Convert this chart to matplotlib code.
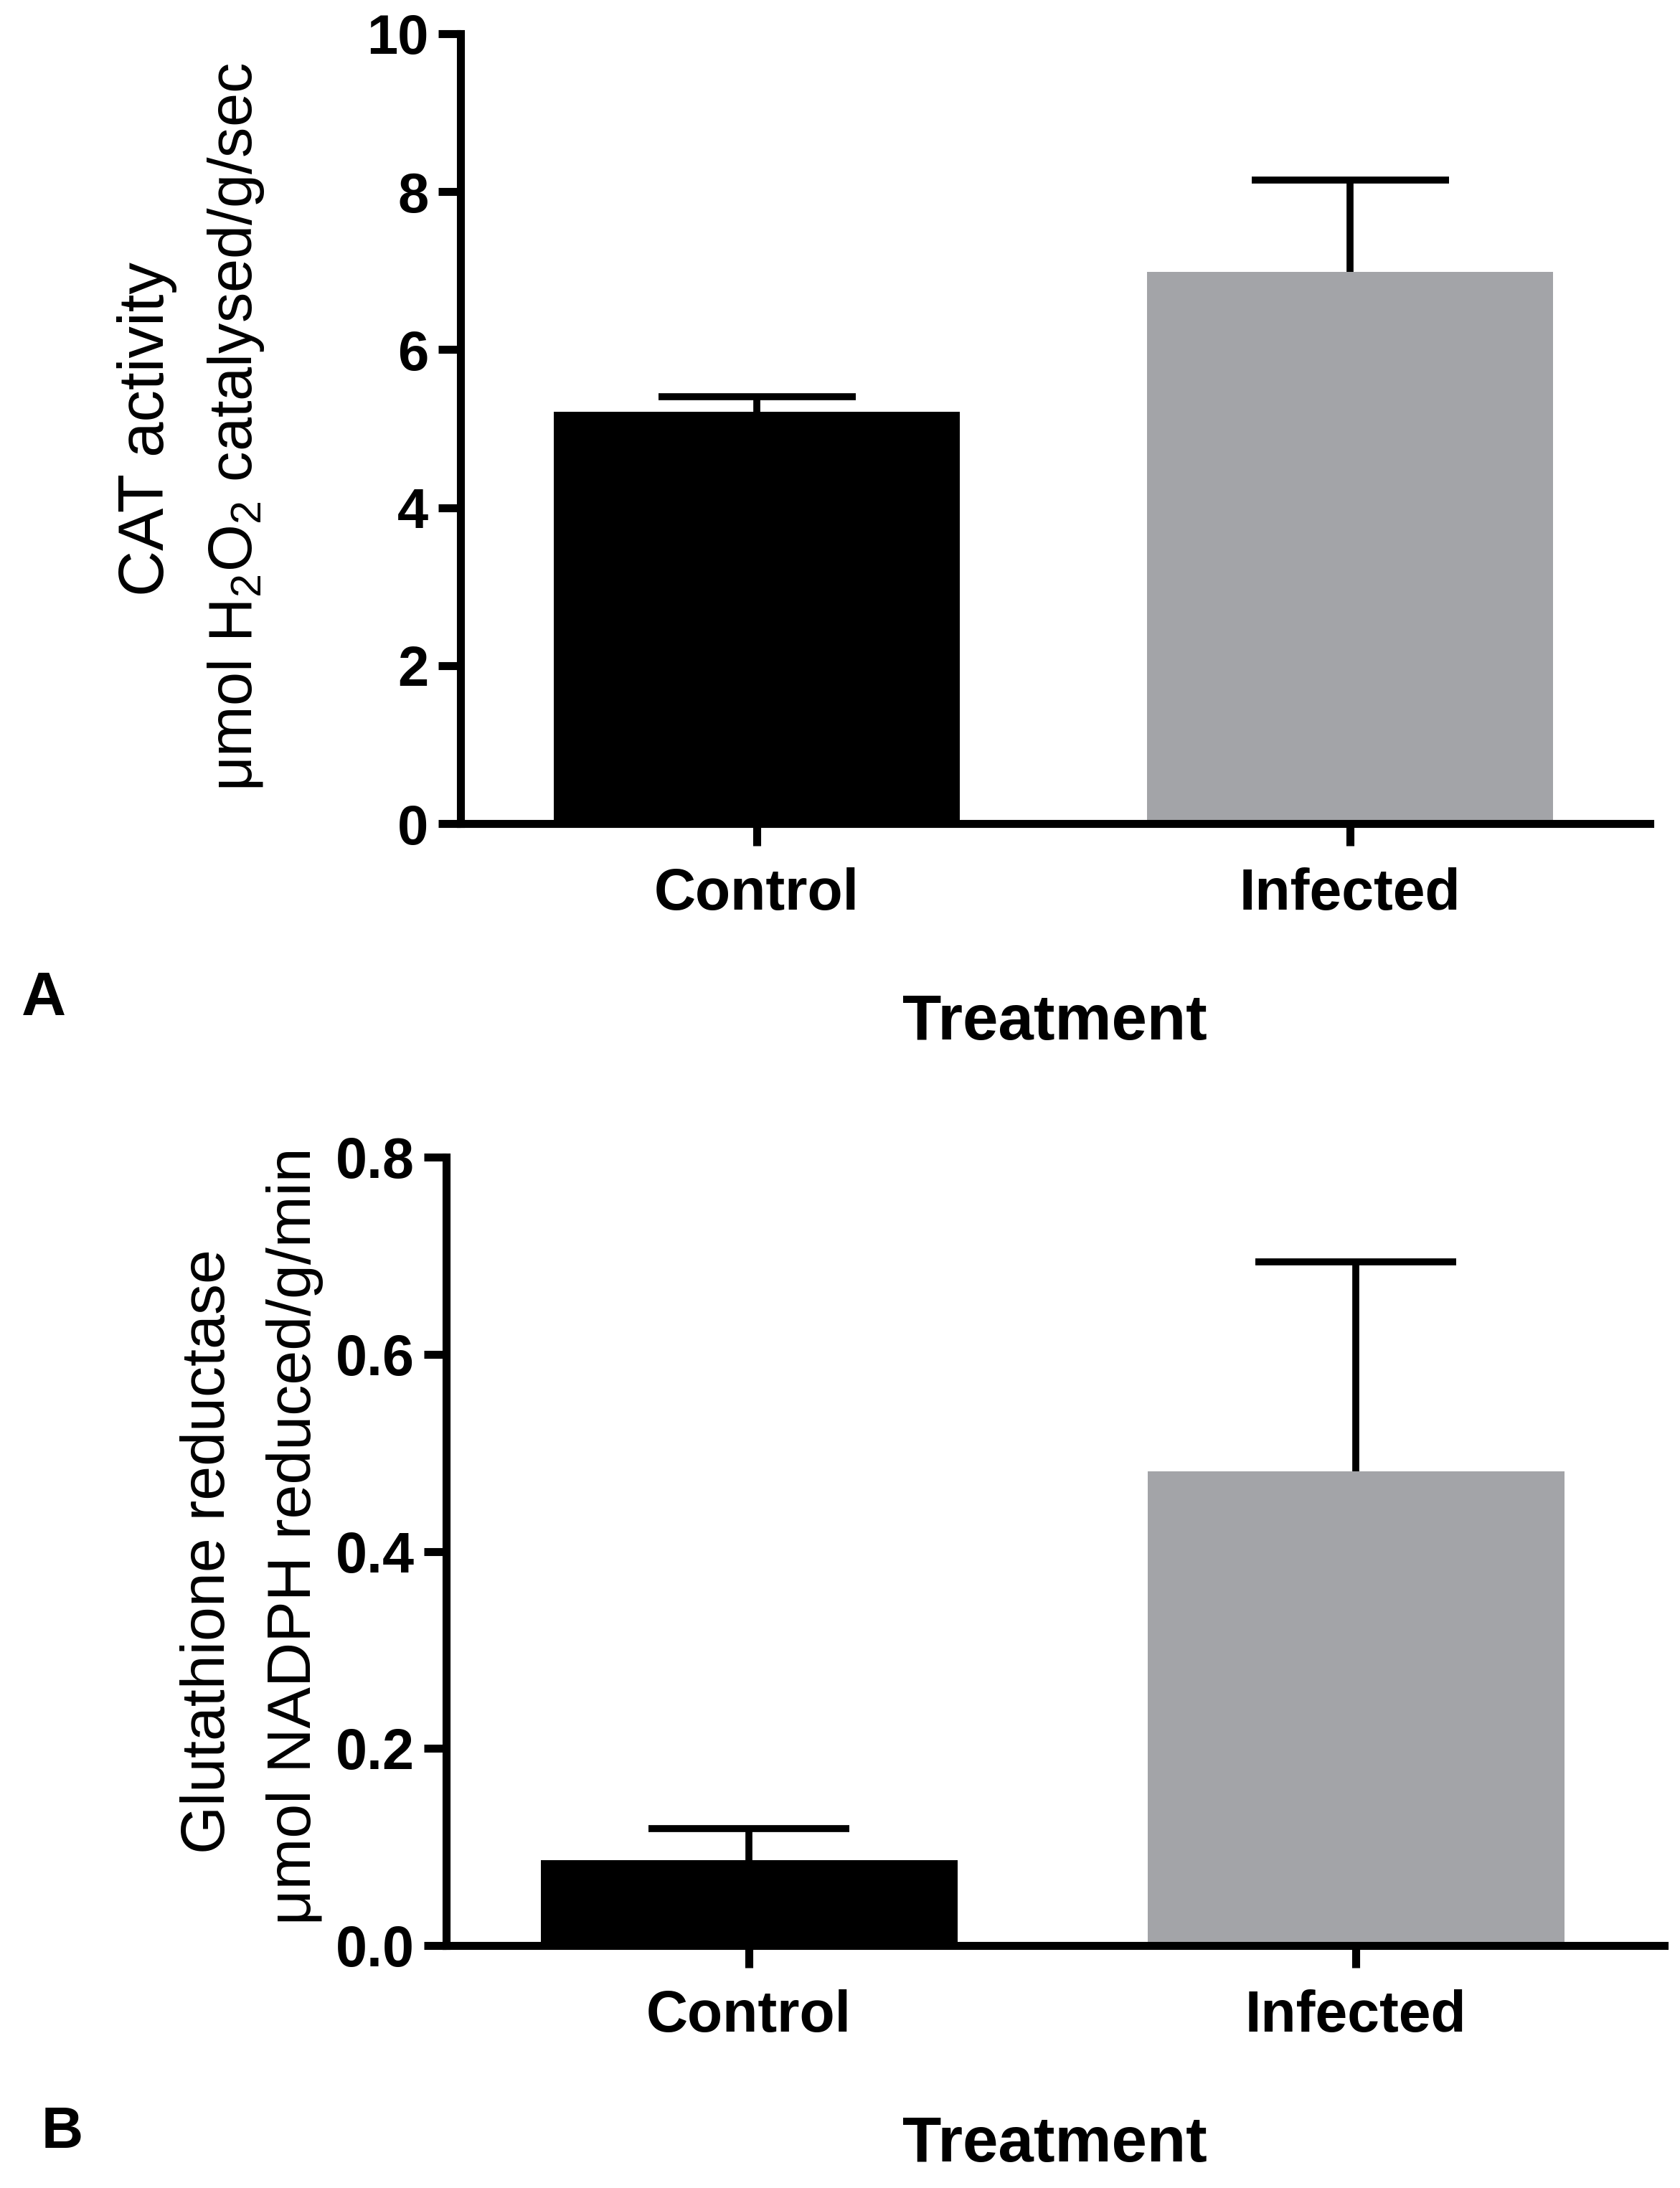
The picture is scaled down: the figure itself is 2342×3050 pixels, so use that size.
import matplotlib
matplotlib.use("Agg")
import matplotlib.pyplot as plt
import numpy as np

plt.rcParams['font.family'] = ['Liberation Sans', 'DejaVu Sans']
plt.rcParams['mathtext.fontset'] = 'custom'
plt.rcParams['mathtext.rm'] = 'Liberation Sans'
plt.rcParams['mathtext.it'] = 'Liberation Sans:italic'
plt.rcParams['mathtext.bf'] = 'Liberation Sans:bold'

# data
groups = ['Control', 'Infected']
colors = ['#000000', '#a3a4a8']

cat_mean = [5.21, 6.98]
cat_sem = [0.19, 1.17]
cat_ticks = [0, 2, 4, 6, 8, 10]

gr_mean = [0.087, 0.481]
gr_sem = [0.032, 0.213]
gr_ticks = [0.0, 0.2, 0.4, 0.6, 0.8]

fig = plt.figure(figsize=(23.42, 30.5), dpi=100)
axA = fig.add_axes([0.2741, 0.6236, 0.708, 0.361])
axB = fig.add_axes([0.2656, 0.1108, 0.725, 0.3603])


def draw(ax, means, errs, ticks, xlim, width, cap, fmt, tsize):
    x = np.arange(len(groups))
    ax.bar(x, means, width=width, color=colors, edgecolor='none', zorder=2)
    # upper error only
    _, caps, _ = ax.errorbar(x, means, yerr=[np.zeros(len(means)), errs], fmt='none',
                             ecolor='black', elinewidth=7, capsize=cap, capthick=7, zorder=3)
    caps[0].set_visible(False)
    ax.set_xlim(*xlim)
    ax.set_ylim(ticks[0], ticks[-1])
    ax.set_yticks(ticks)
    ax.set_yticklabels([fmt.format(t) for t in ticks], fontsize=tsize, fontweight='bold')
    ax.set_xticks(x)
    ax.set_xticklabels(groups, fontsize=58, fontweight='bold')
    for s in ['top', 'right']:
        ax.spines[s].set_visible(False)
    for s in ['left', 'bottom']:
        ax.spines[s].set_linewidth(8)
        ax.spines[s].set_capstyle('projecting')
    ax.tick_params(axis='y', length=22, width=8, pad=10)
    ax.tick_params(axis='x', length=22, width=8, pad=22)


draw(axA, cat_mean, cat_sem, cat_ticks, (-0.499, 1.505), 0.684, 99, '{:g}', 56)
draw(axB, gr_mean, gr_sem, gr_ticks, (-0.499, 1.508), 0.687, 101, '{:.1f}', 57)

# y labels (two lines each)
fig.text(0.0875, 0.804, 'CAT activity', rotation=90, ha='center', va='center', fontsize=64)
fig.text(0.1405, 0.805, 'μmol H$_2$O$_2$ catalysed/g/sec', rotation=90,
         ha='center', va='center', fontsize=61)
fig.text(0.1243, 0.291, 'Glutathione reductase', rotation=90, ha='center', va='center', fontsize=62)
fig.text(0.1755, 0.298, 'μmol NADPH reduced/g/min', rotation=90,
         ha='center', va='center', fontsize=62)

# x labels
fig.text(0.628, 0.5249, 'Treatment', ha='center', va='baseline', fontsize=64, fontweight='bold')
fig.text(0.628, 0.0121, 'Treatment', ha='center', va='baseline', fontsize=64, fontweight='bold')

# panel letters
fig.text(0.0128, 0.5361, 'A', ha='left', va='baseline', fontsize=62, fontweight='bold')
fig.text(0.0248, 0.0184, 'B', ha='left', va='baseline', fontsize=58, fontweight='bold')

fig.savefig('out.png', dpi=100, facecolor='white')
